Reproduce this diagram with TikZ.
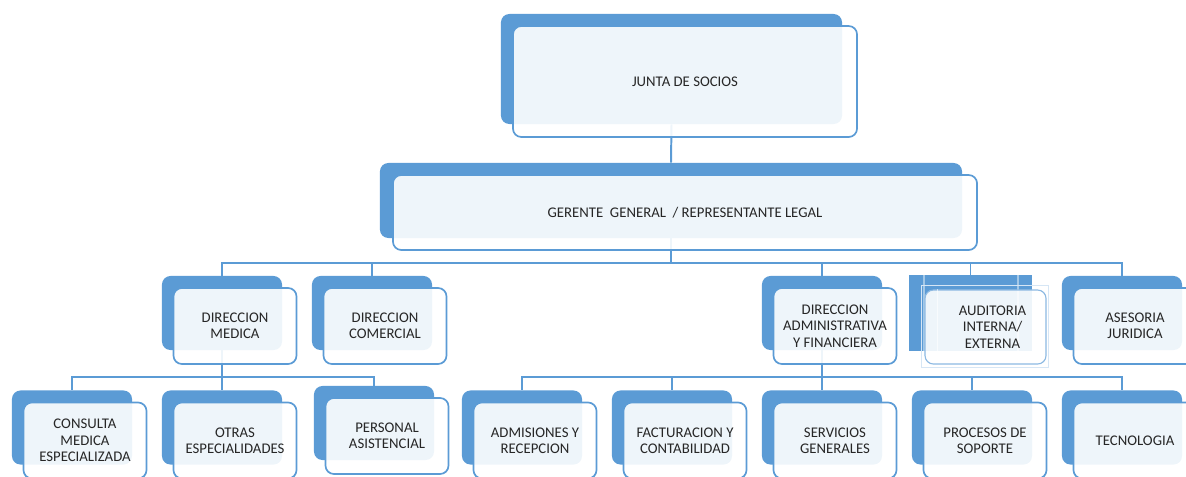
\documentclass[tikz,border=0pt]{standalone}
\usepackage{fontspec}
\setmainfont{Carlito}
\usepackage{tikz}
\definecolor{smartblue}{HTML}{5B9BD5}
\definecolor{txtgray}{HTML}{262626}

\begin{document}
\begin{tikzpicture}[x=0.025cm,y=-0.025cm]
						\tikzstyle{back}=[rectangle,rounded corners=6pt,fill=smartblue,inner sep=0pt,minimum width=3cm,minimum height=1.85cm]
						\tikzstyle{front}=[rectangle,rounded corners=6pt,draw=smartblue,line width=1.2pt,fill=white,fill opacity=0.9,text opacity=1,text=txtgray,inner sep=0pt,minimum width=3.075cm,minimum height=1.9cm,align=center,font=\fontsize{10.5}{11.7}\selectfont]
						\tikzstyle{link}=[draw=smartblue,line width=1.4pt]
						\useasboundingbox (0,0) rectangle (1186,476);
						\node[back,minimum width=8.525cm,minimum height=2.75cm] (1) at (671.5,69) {};
						\node[back,minimum width=14.55cm,minimum height=1.875cm] (2) at (671,200.5) {};
						\node[back] (3) at (222,313) {};
						\node[back] (4) at (372,313) {};
						\node[back] (5) at (822,313) {};
						\node[back,sharp corners,minimum width=3.075cm,minimum height=1.9cm] (6) at (970.5,313) {};
						\node[back] (7) at (1122,313) {};
						\node[back] (8) at (72,427.5) {};
						\node[back] (9) at (222,427.5) {};
						\node[back] (10) at (374,423) {};
						\node[back] (11) at (522,427.5) {};
						\node[back] (12) at (672,427.5) {};
						\node[back] (13) at (822,427.5) {};
						\node[back] (14) at (972,427.5) {};
						\node[back] (15) at (1122,427.5) {};
						\draw[white,opacity=0.45,line width=1.2pt] (6.north west) ++(15,0) -- ++(0,91);
						\draw[white,opacity=0.45,line width=1.2pt] (6.north east) ++(-14,0) -- ++(0,76);
						\draw[link] (1.south) -- (2.north);
						\draw[link] (2.south) -- ++(0,25) -| (3.north);
						\draw[link] (2.south) -- ++(0,25) -| (4.north);
						\draw[link] (2.south) -- ++(0,25) -| (5.north);
						\draw[link] (2.south) -- ++(0,25) -| (6.north);
						\draw[link] (2.south) -- ++(0,25) -| (7.north);
						\draw[link] (3.south) -- ++(0,27) -| (8.north);
						\draw[link] (3.south) -- ++(0,27) -| (9.north);
						\draw[link] (3.south) -- ++(0,27) -| (10.north);
						\draw[link] (5.south) -- ++(0,27) -| (11.north);
						\draw[link] (5.south) -- ++(0,27) -| (12.north);
						\draw[link] (5.south) -- ++(0,27) -| (13.north);
						\draw[link] (5.south) -- ++(0,27) -| (14.north);
						\draw[link] (5.south) -- ++(0,27) -| (15.north);
						\node[front,minimum width=8.6cm,minimum height=2.775cm] (f1) at (685,81.5) {JUNTA DE SOCIOS};
						\node[front,minimum width=14.6cm,minimum height=1.875cm] (f2) at (685,212.5) {GERENTE\ \ GENERAL\ \ / REPRESENTANTE LEGAL};
						\node[front] (f3) at (235,326) {DIRECCION\\MEDICA};
						\node[front] (f4) at (385,326) {DIRECCION\\COMERCIAL};
						\node[front] (f5) at (835,326) {DIRECCION\\ADMINISTRATIVA\\Y FINANCIERA};
						\node[front,draw=smartblue!70,line width=0.8pt,minimum width=3.025cm,minimum height=1.85cm] (f6) at (985.5,327) {\hspace*{10pt}AUDITORIA\\\hspace*{10pt}INTERNA/\\\hspace*{10pt}EXTERNA};
						\draw[smartblue!25,line width=0.8pt] (f6.south west) ++(-3,3) rectangle ([shift={(2,-4)}]f6.north east);
						\draw[white,opacity=0.6,line width=1pt] (f6.north west) ++(13,0) -- ++(0,74);
						\node[front] (f7) at (1135,326) {ASESORIA\\JURIDICA};
						\node[front] (f8) at (85,440.5) {CONSULTA\\MEDICA\\ESPECIALIZADA};
						\node[front] (f9) at (235,440.5) {OTRAS\\ESPECIALIDADES};
						\node[front] (f10) at (387,436) {PERSONAL\\ASISTENCIAL};
						\node[front] (f11) at (535,440.5) {ADMISIONES Y\\RECEPCION};
						\node[front] (f12) at (685,440.5) {FACTURACION Y\\CONTABILIDAD};
						\node[front] (f13) at (835,440.5) {SERVICIOS\\GENERALES};
						\node[front] (f14) at (985,440.5) {PROCESOS DE\\SOPORTE};
						\node[front] (f15) at (1135,440.5) {TECNOLOGIA};
						\end{tikzpicture}
\end{document}
